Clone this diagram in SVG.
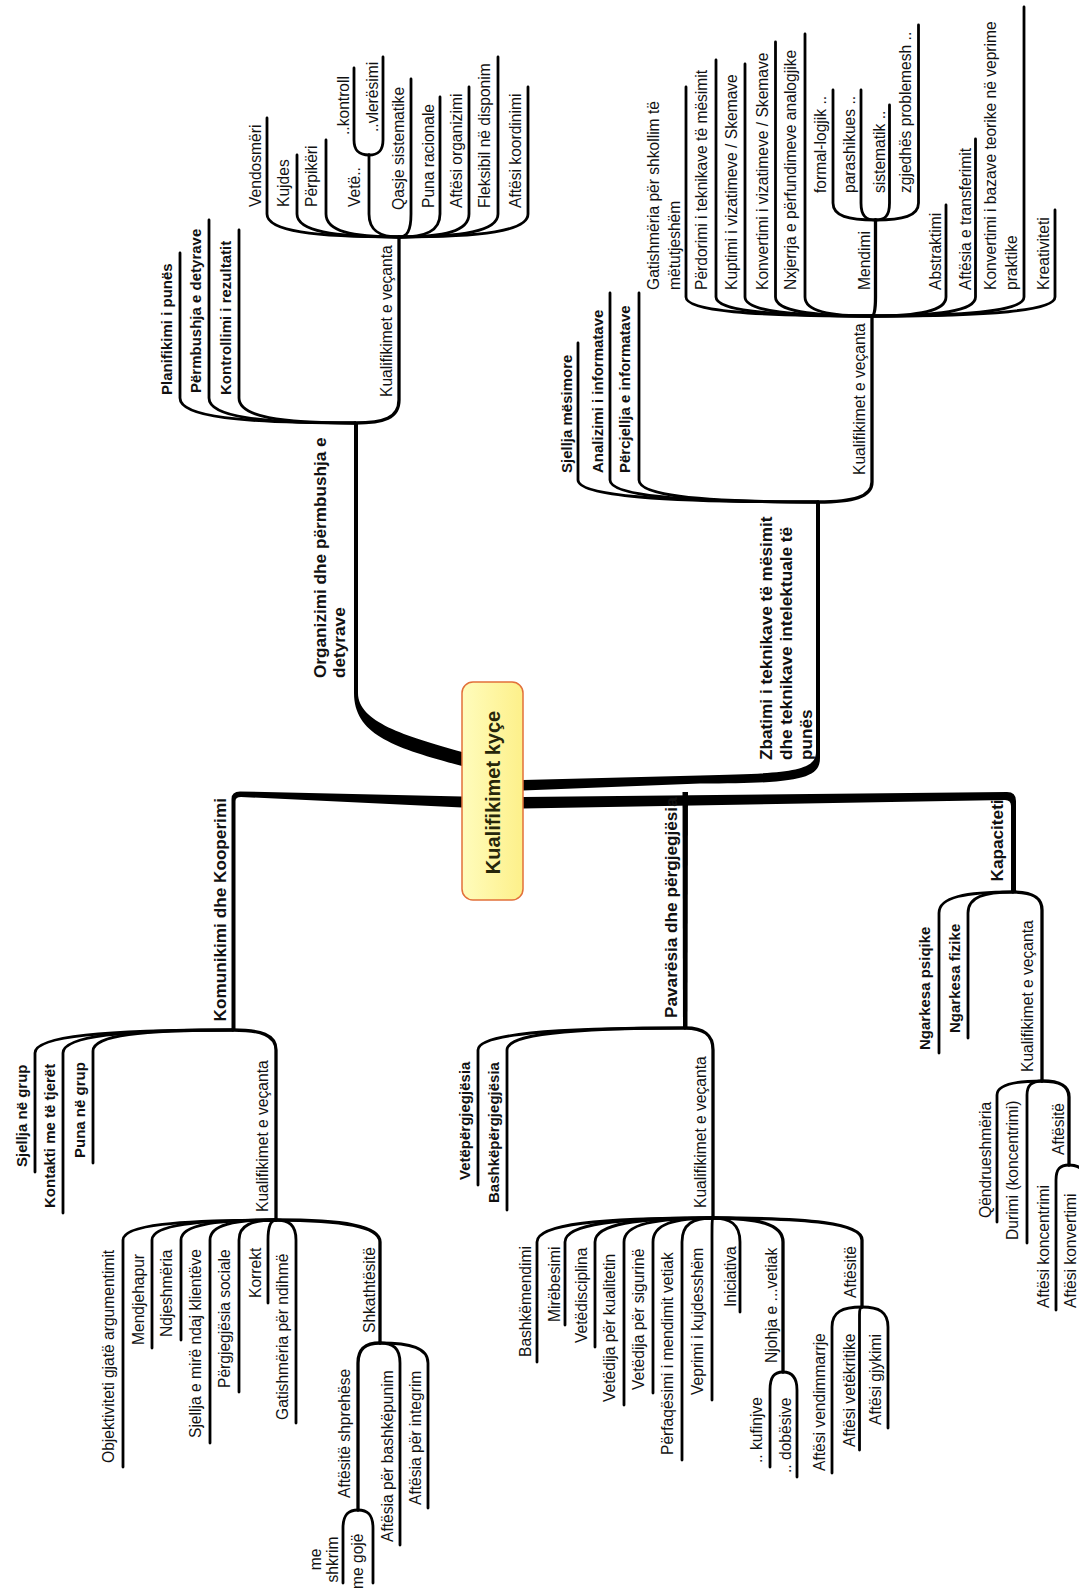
<svg xmlns="http://www.w3.org/2000/svg" width="1079" height="1595" viewBox="0 0 1079 1595">
<defs>
<linearGradient id="bx" x1="0" y1="0" x2="1" y2="0">
<stop offset="0" stop-color="#fffcbc"/>
<stop offset="1" stop-color="#fdf08a"/>
</linearGradient>
<style>
.t{font-family:"Liberation Sans",Arial,sans-serif;fill:#111}
.r{font-size:15.6px}
.b{font-size:15px;font-weight:bold}
.m{font-size:17.2px;font-weight:bold}
.c{font-size:20px;font-weight:bold;fill:#26260a}
#connectors path{fill:none;stroke:#000;stroke-width:2.8;stroke-linecap:round;stroke-linejoin:round}
#connectors path.l3{stroke-width:3.3}
#connectors path.k{fill:#000;stroke:none}
</style>
</defs>
<rect width="1079" height="1595" fill="#fff"/>
<g id="connectors">
<path class="k" d="M354,423 V693 C354,735 395,748 462,766 V752 C405,736 358,722 358,693 V423 Z"/>
<path class="k" d="M462,796.5 L240,791.5 Q231.5,791.5 231.5,799 V1030 H235.5 V801 Q235.5,797 241,797 L462,807.5 Z"/>
<path class="k" d="M523,780 L700,775.5 C790,773.5 816,771 816,752 V502 H820 V758 C820,779 798,783.5 700,783.5 L523,790.5 Z"/>
<path class="k" d="M523,797 L1007,792 Q1016,792 1016,801 V892 H1011 V806 Q1011,800 1005,800 L523,808.5 Z"/>
<path class="k" d="M682.5,792 H688 L687.5,1028 H683 Z"/>
<path d="M180,253 V398 C180,417 241,423 355,423"/>
<path d="M209,220 V398 C209,417 260,423 355,423"/>
<path d="M239,230 V398 C239,417 280,423 355,423"/>
<path class="l3" d="M399,237 V400 C399,418 384,423 355,423"/>
<path d="M267,118 V214 C267,231 313,237 399,237"/>
<path d="M297,155 V214 C297,231 333,237 399,237"/>
<path d="M326,140 V214 C326,231 351,237 399,237"/>
<path d="M369,155 V214 C369,231 380,237 399,237"/>
<path d="M411,79 V214 C411,231 407,237 399,237"/>
<path d="M440,97 V214 C440,231 426,237 399,237"/>
<path d="M469,87 V214 C469,231 445,237 399,237"/>
<path d="M498,57 V214 C498,231 463,237 399,237"/>
<path d="M528,87 V214 C528,231 483,237 399,237"/>
<path d="M354,68 V140 C354,151 359,155 369,155"/>
<path d="M383,57 V140 C383,151 378,155 369,155"/>
<path d="M578,343 V480 C578,496 662,502 818,502"/>
<path d="M610,293 V480 C610,496 683,502 818,502"/>
<path d="M639,293 V480 C639,496 702,502 818,502"/>
<path class="l3" d="M872,316 V482 C872,497 853,502 818,502"/>
<path d="M686,87 V297 C686,311 751,316 872,316"/>
<path d="M716,60 V297 C716,311 771,316 872,316"/>
<path d="M745,64 V297 C745,311 790,316 872,316"/>
<path d="M775.5,42 V297 C775.5,311 809,316 872,316"/>
<path d="M805,34 V297 C805,311 828,316 872,316"/>
<path class="l3" d="M875.5,220 V297 C875.5,311 874,316 872,316"/>
<path d="M946,205 V297 C946,311 920,316 872,316"/>
<path d="M975.5,139 V297 C975.5,311 939,316 872,316"/>
<path d="M1024,7 V297 C1024,311 971,316 872,316"/>
<path d="M1055,210 V297 C1055,311 991,316 872,316"/>
<path d="M833,90 V203 C833,216 848,220 875.5,220"/>
<path d="M861,90 V203 C861,216 866,220 875.5,220"/>
<path d="M889.5,105 V203 C889.5,216 885,220 875.5,220"/>
<path d="M918.5,25 V203 C918.5,216 903,220 875.5,220"/>
<path d="M233,1030 C104,1030 35,1036 35,1053 V1172"/>
<path d="M233,1030 C122,1030 63,1036 63,1053 V1213"/>
<path d="M233,1030 C142,1030 93,1035 93,1051 V1163"/>
<path class="l3" d="M233,1030 C261,1030 276,1035 276,1050 V1220"/>
<path d="M276,1220 C177,1220 123,1225 123,1240 V1467"/>
<path d="M276,1220 C196,1220 152,1225 152,1240 V1348"/>
<path d="M276,1220 C214,1220 181,1225 181,1240 V1340"/>
<path d="M276,1220 C233,1220 210,1225 210,1240 V1443"/>
<path d="M276,1220 C252,1220 239,1225 239,1240 V1392"/>
<path d="M276,1220 C271,1220 268,1225 268,1240 V1303"/>
<path d="M276,1220 C289,1220 296,1225 296,1240 V1423"/>
<path class="l3" d="M276,1220 C344,1220 380,1226 380,1242 V1343"/>
<path class="l3" d="M380,1343 C366,1343 358,1348 358,1363 V1510"/>
<path d="M380,1343 C393,1343 400,1348 400,1363 V1545"/>
<path d="M380,1343 C411,1343 428,1348 428,1363 V1508"/>
<path d="M358,1510 C348,1510 343,1515 343,1528 V1583"/>
<path d="M358,1510 C368,1510 373,1515 373,1528 V1583"/>
<path d="M685,1028 C550,1028 478,1034 478,1050 V1185"/>
<path d="M685,1028 C569,1028 507,1034 507,1050 V1210"/>
<path class="l3" d="M685,1028 C703,1028 713,1034 713,1050 V1218"/>
<path d="M713,1218 C599,1218 537,1224 537,1242 V1362"/>
<path d="M713,1218 C617,1218 565,1224 565,1242 V1325"/>
<path d="M713,1218 C636,1218 595,1224 595,1242 V1347"/>
<path d="M713,1218 C655,1218 624,1224 624,1242 V1405"/>
<path d="M713,1218 C674,1218 653,1224 653,1242 V1393"/>
<path d="M713,1218 C693,1218 682,1224 682,1242 V1460"/>
<path d="M713,1218 C712,1218 712,1224 712,1242 V1400"/>
<path d="M713,1218 C730,1218 740,1224 740,1242 V1312"/>
<path class="l3" d="M713,1218 C758,1218 783,1224 783,1242 V1372"/>
<path class="l3" d="M713,1218 C810,1218 862,1223 862,1240 V1307"/>
<path d="M783,1372 C774,1372 770,1377 770,1390 V1467"/>
<path d="M783,1372 C792,1372 797,1377 797,1390 V1477"/>
<path d="M862,1307 C842,1307 832,1312 832,1327 V1473"/>
<path d="M862,1307 C860,1307 859.5,1310 859.5,1315 V1450"/>
<path d="M862,1307 C879,1307 888,1312 888,1327 V1428"/>
<path d="M1013,892 C965,892 939,897 939,913 V1053"/>
<path d="M1013,892 C984,892 968,897 968,913 V1038"/>
<path class="l3" d="M1013,892 C1032,892 1042,897 1042,910 V1081"/>
<path d="M1042,1081 C1013,1081 997,1085 997,1095 V1222"/>
<path d="M1042,1081 C1032,1081 1027,1085 1027,1095 V1243"/>
<path class="l3" d="M1042,1081 C1059,1081 1069,1085 1069,1097 V1165"/>
<path d="M1069,1165 C1060,1165 1056,1169 1056,1180 V1310"/>
<path d="M1069,1165 C1079,1165 1085,1169 1085,1180 V1310"/>
</g>
<g id="center">
<rect x="462" y="682" width="61" height="218" rx="11" fill="url(#bx)" stroke="#e2703a" stroke-width="1.5"/>
<text class="t c" text-anchor="middle" transform="translate(499.5 792.5) rotate(-90)">Kualifikimet kyçe</text>
</g>
<g id="organizimi">
<text class="t m" transform="translate(326 678) rotate(-90)"><tspan x="0" y="0">Organizimi dhe përmbushja e</tspan><tspan x="0" dy="19">detyrave</tspan></text>
<text class="t b" transform="translate(172 395) rotate(-90)">Planifikimi i punës</text>
<text class="t b" transform="translate(200.5 393) rotate(-90)">Përmbushja e detyrave</text>
<text class="t b" transform="translate(231 395) rotate(-90)">Kontrollimi i rezultatit</text>
<text class="t r" transform="translate(391.5 397) rotate(-90)">Kualifikimet e veçanta</text>
<text class="t r" transform="translate(261 207) rotate(-90)">Vendosmëri</text>
<text class="t r" transform="translate(288.5 207) rotate(-90)">Kujdes</text>
<text class="t r" transform="translate(317 207) rotate(-90)">Përpikëri</text>
<text class="t r" transform="translate(360 207) rotate(-90)">Vetë..</text>
<text class="t r" transform="translate(349 135) rotate(-90)">..kontroll</text>
<text class="t r" transform="translate(378 132) rotate(-90)">..vlerësimi</text>
<text class="t r" transform="translate(403.5 210) rotate(-90)">Qasje sistematike</text>
<text class="t r" transform="translate(434 208) rotate(-90)">Puna racionale</text>
<text class="t r" transform="translate(462 208) rotate(-90)">Aftësi organizimi</text>
<text class="t r" transform="translate(490 208) rotate(-90)">Fleksibil në disponim</text>
<text class="t r" transform="translate(521 208) rotate(-90)">Aftësi koordinimi</text>
</g>
<g id="zbatimi">
<text class="t m" transform="translate(771.5 760) rotate(-90)"><tspan x="0" y="0">Zbatimi i teknikave të mësimit</tspan><tspan x="0" dy="20">dhe teknikave intelektuale të</tspan><tspan x="0" dy="20">punës</tspan></text>
<text class="t b" transform="translate(572 473) rotate(-90)">Sjellja mësimore</text>
<text class="t b" transform="translate(603 473) rotate(-90)">Analizimi i informatave</text>
<text class="t b" transform="translate(629.5 473) rotate(-90)">Përcjellja e informatave</text>
<text class="t r" transform="translate(865 475) rotate(-90)">Kualifikimet e veçanta</text>
<text class="t r" transform="translate(658.5 290) rotate(-90)"><tspan x="0" y="0">Gatishmëria për shkollim të</tspan><tspan x="0" dy="21">mëtutjeshëm</tspan></text>
<text class="t r" transform="translate(707 290) rotate(-90)">Përdorimi i teknikave të mësimit</text>
<text class="t r" transform="translate(737 290) rotate(-90)">Kuptimi i vizatimeve / Skemave</text>
<text class="t r" transform="translate(768 290) rotate(-90)">Konvertimi i vizatimeve / Skemave</text>
<text class="t r" transform="translate(796 290) rotate(-90)">Nxjerrja e përfundimeve analogjike</text>
<text class="t r" transform="translate(869.5 290) rotate(-90)">Mendimi</text>
<text class="t r" transform="translate(825.5 193) rotate(-90)">formal-logjik ..</text>
<text class="t r" transform="translate(854.5 193) rotate(-90)">parashikues ..</text>
<text class="t r" transform="translate(885 193) rotate(-90)">sistematik ..</text>
<text class="t r" transform="translate(910.5 193) rotate(-90)">zgjedhës problemesh ..</text>
<text class="t r" transform="translate(941 290) rotate(-90)">Abstraktimi</text>
<text class="t r" transform="translate(970.5 290) rotate(-90)">Aftësia e transferimit</text>
<text class="t r" transform="translate(996 290) rotate(-90)"><tspan x="0" y="0">Konvertimi i bazave teorike në veprime</tspan><tspan x="0" dy="20.5">praktike</tspan></text>
<text class="t r" transform="translate(1049 290) rotate(-90)">Kreativiteti</text>
</g>
<g id="komunikimi">
<text class="t m" transform="translate(226 1021.5) rotate(-90)">Komunikimi dhe Kooperimi</text>
<text class="t b" transform="translate(27 1167) rotate(-90)">Sjellja në grup</text>
<text class="t b" transform="translate(55 1208) rotate(-90)">Kontakti me të tjerët</text>
<text class="t b" transform="translate(85 1158) rotate(-90)">Puna në grup</text>
<text class="t r" transform="translate(268 1212) rotate(-90)">Kualifikimet e veçanta</text>
<text class="t r" transform="translate(114 1463) rotate(-90)">Objektiviteti gjatë argumentimit</text>
<text class="t r" transform="translate(143.5 1345) rotate(-90)">Mendjehapur</text>
<text class="t r" transform="translate(172 1337) rotate(-90)">Ndjeshmëria</text>
<text class="t r" transform="translate(201 1438) rotate(-90)">Sjellja e mirë ndaj klientëve</text>
<text class="t r" transform="translate(229.5 1388) rotate(-90)">Përgjegjësia sociale</text>
<text class="t r" transform="translate(261 1298) rotate(-90)">Korrekt</text>
<text class="t r" transform="translate(288 1420) rotate(-90)">Gatishmëria për ndihmë</text>
<text class="t r" transform="translate(375 1333) rotate(-90)">Shkathtësitë</text>
<text class="t r" transform="translate(349.5 1498) rotate(-90)">Aftësitë shprehëse</text>
<text class="t r" transform="translate(393 1542) rotate(-90)">Aftësia për bashkëpunim</text>
<text class="t r" transform="translate(421 1505) rotate(-90)">Aftësia për integrim</text>
<text class="t r" text-anchor="middle" transform="translate(321 1559.5) rotate(-90)"><tspan x="0" y="0">me</tspan><tspan x="0" dy="17">shkrim</tspan></text>
<text class="t r" transform="translate(363 1589) rotate(-90)">me gojë</text>
</g>
<g id="pavaresia">
<text class="t m" transform="translate(676.5 1018) rotate(-90)">Pavarësia dhe përgjegjësia</text>
<text class="t b" transform="translate(470 1180) rotate(-90)">Vetëpërgjegjësia</text>
<text class="t b" transform="translate(499 1203) rotate(-90)">Bashkëpërgjegjësia</text>
<text class="t r" transform="translate(706 1208) rotate(-90)">Kualifikimet e veçanta</text>
<text class="t r" transform="translate(531 1357) rotate(-90)">Bashkëmendimi</text>
<text class="t r" transform="translate(560 1322) rotate(-90)">Mirëbesimi</text>
<text class="t r" transform="translate(587 1343) rotate(-90)">Vetëdisciplina</text>
<text class="t r" transform="translate(615 1402) rotate(-90)">Vetëdija për kualitetin</text>
<text class="t r" transform="translate(643.5 1390) rotate(-90)">Vetëdija për sigurinë</text>
<text class="t r" transform="translate(673 1455) rotate(-90)">Përfaqësimi i mendimit vetiak</text>
<text class="t r" transform="translate(703 1395) rotate(-90)">Veprimi i kujdesshëm</text>
<text class="t r" transform="translate(736 1307) rotate(-90)">Iniciativa</text>
<text class="t r" transform="translate(777 1363) rotate(-90)">Njohja e ...vetiak</text>
<text class="t r" transform="translate(762 1463) rotate(-90)">.. kufinjve</text>
<text class="t r" transform="translate(791 1473) rotate(-90)">.. dobësive</text>
<text class="t r" transform="translate(856 1298) rotate(-90)">Aftësitë</text>
<text class="t r" transform="translate(825 1471) rotate(-90)">Aftësi vendimmarrje</text>
<text class="t r" transform="translate(855 1447) rotate(-90)">Aftësi vetëkritike</text>
<text class="t r" transform="translate(881 1425) rotate(-90)">Aftësi gjykimi</text>
</g>
<g id="kapaciteti">
<text class="t m" transform="translate(1003 881.5) rotate(-90)">Kapaciteti</text>
<text class="t b" transform="translate(930 1050) rotate(-90)">Ngarkesa psiqike</text>
<text class="t b" transform="translate(960 1033) rotate(-90)">Ngarkesa fizike</text>
<text class="t r" transform="translate(1033 1072) rotate(-90)">Kualifikimet e veçanta</text>
<text class="t r" transform="translate(991 1218) rotate(-90)">Qëndrueshmëria</text>
<text class="t r" transform="translate(1018 1240) rotate(-90)">Durimi (koncentrimi)</text>
<text class="t r" transform="translate(1064 1155) rotate(-90)">Aftësitë</text>
<text class="t r" transform="translate(1049 1308) rotate(-90)">Aftësi koncentrimi</text>
<text class="t r" transform="translate(1076 1308) rotate(-90)">Aftësi konvertimi</text>
</g>
</svg>
